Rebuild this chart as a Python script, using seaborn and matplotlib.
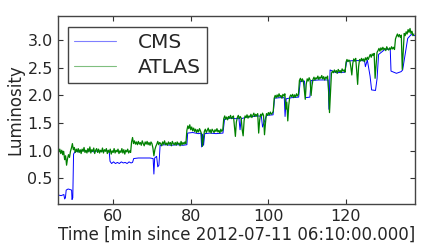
import numpy as np
import matplotlib
matplotlib.use('Agg')
import matplotlib.pyplot as plt
import seaborn as sns

# ATLAS luminosity, one reading every quarter minute from t=46.0 to t=137.5
atlas_time = np.arange(46.0, 137.51, 0.25)
atlas_lumi = [
    0.98, 1.03, 0.95, 1.01, 0.93, 0.99, 0.84, 0.91, 0.74, 0.86, 0.93, 0.88, 0.99, 1.05, 1.13, 1.02, 1.06, 0.97, 1.03, 0.98,
    1.04, 0.97, 1.02, 0.95, 1.03, 0.99, 1.06, 0.97, 1.01, 0.96, 1.04, 0.98, 1.07, 0.96, 1.02, 0.99, 1.05, 0.95, 1.01, 1.04,
    0.97, 1.03, 0.96, 1.01, 0.98, 1.05, 0.96, 1.02, 0.99, 1.04, 0.95, 1.01, 0.97, 1.03, 0.94, 1.00, 0.97, 1.04, 0.96, 1.01,
    0.98, 1.03, 0.95, 1.00, 0.97, 1.04, 0.96, 1.02, 0.94, 1.01, 0.98, 1.03, 0.96, 1.00, 0.97, 1.16, 1.24, 1.13, 1.18, 1.12,
    1.16, 1.11, 1.17, 1.12, 1.15, 1.10, 1.18, 1.13, 1.09, 1.16, 1.12, 1.17, 1.11, 1.15, 1.10, 1.16, 1.13, 1.05, 0.91, 1.02,
    1.08, 1.12, 1.17, 1.11, 1.15, 1.13, 1.09, 1.16, 1.12, 1.18, 1.11, 1.14, 1.10, 1.16, 1.12, 1.15, 1.09, 1.17, 1.13, 1.11,
    1.15, 1.10, 1.16, 1.12, 1.14, 1.09, 1.17, 1.11, 1.15, 1.12, 1.16, 1.13, 1.37, 1.45, 1.40, 1.47, 1.38, 1.43, 1.36, 1.41,
    1.35, 1.39, 1.33, 1.38, 1.34, 1.40, 1.36, 1.31, 1.08, 1.22, 1.35, 1.39, 1.33, 1.37, 1.41, 1.34, 1.38, 1.32, 1.39, 1.36,
    1.33, 1.38, 1.35, 1.40, 1.34, 1.37, 1.32, 1.39, 1.35, 1.38, 1.58, 1.63, 1.57, 1.61, 1.56, 1.62, 1.59, 1.64, 1.58, 1.61,
    1.63, 1.44, 1.26, 1.52, 1.60, 1.64, 1.58, 1.62, 1.59, 1.38, 1.27, 1.55, 1.63, 1.60, 1.65, 1.59, 1.63, 1.61, 1.66, 1.60,
    1.64, 1.68, 1.62, 1.66, 1.63, 1.67, 1.32, 1.55, 1.66, 1.63, 1.68, 1.64, 1.29, 1.50, 1.67, 1.64, 1.69, 1.65, 1.70, 1.66,
    1.68, 1.71, 1.95, 2.00, 1.96, 2.01, 1.97, 2.03, 1.98, 2.00, 1.95, 2.02, 1.99, 2.03, 1.75, 1.88, 1.54, 1.82, 1.97, 2.01,
    1.98, 2.02, 1.96, 2.01, 1.97, 2.03, 1.99, 2.02, 2.27, 2.31, 2.25, 2.30, 2.26, 2.11, 1.93, 2.20, 2.30, 2.26, 2.32, 2.28,
    2.00, 2.18, 2.29, 2.33, 2.28, 2.32, 2.30, 2.35, 2.29, 2.33, 2.31, 2.36, 2.30, 2.34, 2.28, 2.33, 2.31, 2.35, 2.12, 1.69,
    2.05, 2.40, 2.44, 2.41, 2.46, 2.42, 2.45, 2.40, 2.47, 2.43, 2.45, 2.41, 2.48, 2.44, 2.46, 2.42, 2.60, 2.65, 2.61, 2.64,
    2.62, 2.51, 2.37, 2.58, 2.66, 2.62, 2.67, 2.45, 2.20, 2.52, 2.65, 2.62, 2.67, 2.63, 2.66, 2.61, 2.68, 2.64, 2.69, 2.65,
    2.70, 2.74, 2.69, 2.75, 2.72, 2.76, 2.31, 2.55, 2.78, 2.81, 2.85, 2.80, 2.86, 2.82, 2.87, 2.83, 2.85, 2.81, 2.88, 2.84,
    2.82, 2.86, 2.83, 2.88, 2.84, 2.87, 2.83, 3.02, 3.07, 3.11, 3.06, 3.10, 3.05, 3.09, 2.47, 2.80, 3.12, 3.08, 3.15, 3.11,
    3.19, 3.14, 3.21, 3.12, 3.16, 3.08, 3.11,
]

# CMS luminosity
cms_time = [
    45.9, 46.6, 47.3, 47.5, 47.7, 47.9, 48.4, 48.9, 49.3, 49.4,
    49.6, 49.8, 50.3, 51.0, 52.0, 53.0, 54.0, 55.0, 56.0, 57.0,
    58.0, 59.0, 59.2, 59.6, 60.1, 60.6, 61.1, 61.6, 62.1, 62.6,
    63.1, 63.6, 64.1, 64.6, 65.0, 65.3, 66.5, 68.0, 69.5, 70.3,
    70.5, 70.7, 71.2, 71.5, 71.8, 72.1, 73.5, 75.0, 76.5, 78.0,
    79.0, 79.2, 80.5, 82.0, 82.6, 82.8, 83.0, 83.3, 83.6, 85.0,
    86.5, 88.3, 88.7, 90.0, 91.6, 92.4, 92.7, 93.0, 94.5, 96.0,
    97.5, 98.2, 98.5, 99.5, 101.2, 101.6, 103.0, 104.1, 104.3, 104.6,
    106.0, 107.8, 108.2, 109.3, 109.6, 110.7, 111.0, 113.0, 115.4, 115.6,
    115.9, 117.5, 119.7, 120.2, 122.0, 124.0, 124.8, 125.0, 125.5, 126.2,
    126.6, 127.6, 128.0, 128.4, 130.0, 131.4, 131.6, 133.0, 134.2, 134.6,
    135.9, 136.8, 137.8,
]
cms_lumi = [
    0.20, 0.19, 0.21, 0.13, 0.15, 0.29, 0.31, 0.30, 0.29, 0.12,
    0.15, 0.94, 1.00, 0.98, 1.01, 0.99, 1.00, 0.98, 1.00, 0.99,
    1.01, 0.98, 0.81, 0.77, 0.80, 0.77, 0.79, 0.77, 0.80, 0.78,
    0.79, 0.77, 0.80, 0.78, 0.79, 0.86, 0.87, 0.87, 0.87, 0.86,
    0.58, 0.87, 0.90, 0.71, 0.74, 1.10, 1.11, 1.10, 1.11, 1.10,
    1.11, 1.32, 1.33, 1.31, 1.32, 1.07, 1.30, 1.10, 1.31, 1.32,
    1.31, 1.32, 1.57, 1.59, 1.58, 1.59, 1.38, 1.58, 1.61, 1.62,
    1.63, 1.62, 1.43, 1.64, 1.65, 1.95, 1.96, 1.96, 1.62, 1.94,
    1.96, 1.97, 2.25, 2.26, 1.96, 1.97, 2.27, 2.28, 2.28, 1.75,
    2.46, 2.41, 2.42, 2.62, 2.63, 2.63, 2.62, 2.52, 2.64, 2.35,
    2.10, 2.09, 2.30, 2.74, 2.83, 2.84, 2.44, 2.40, 2.43, 2.46,
    3.03, 3.10, 3.08,
]

x_ticks = [60, 80, 100, 120]
y_ticks = [0.5, 1.0, 1.5, 2.0, 2.5, 3.0]

sns.set_style('ticks')
plt.rcParams['font.family'] = ['DejaVu Sans']

fig, ax = plt.subplots(figsize=(4.36, 2.46), dpi=100)
fig.subplots_adjust(left=0.134, right=0.952, top=0.936, bottom=0.171)

sns.lineplot(x=cms_time, y=cms_lumi, color='b', lw=0.7, label='CMS',
             estimator=None, sort=False, ax=ax)
sns.lineplot(x=atlas_time, y=atlas_lumi, color='g', lw=0.9, label='ATLAS',
             estimator=None, sort=False, ax=ax)

ax.set_xlim(45.9, 137.8)
ax.set_ylim(0.04, 3.44)
ax.set_xticks(x_ticks)
ax.set_yticks(y_ticks)
ax.tick_params(direction='in', top=True, right=True, length=3.5,
               labelsize=11.5, pad=4, color='#333333')
for s in ax.spines.values():
    s.set_color('#444444')
    s.set_linewidth(1.0)

ax.set_xlabel('Time [min since 2012-07-11 06:10:00.000]', fontsize=12, labelpad=1)
ax.set_ylabel('Luminosity', fontsize=12, labelpad=2)

leg = ax.legend(loc='upper left', bbox_to_anchor=(0.028, 0.942), borderaxespad=0,
                fontsize=14.5, handlelength=2.05, handletextpad=1.1,
                borderpad=0.3, labelspacing=0.3, fancybox=False, framealpha=1)
leg.get_frame().set_edgecolor('#444444')
leg.get_frame().set_linewidth(1.0)
for line in leg.get_lines():
    line.set_alpha(0.5)
    line.set_linewidth(0.8)

fig.savefig('out.png', dpi=100)
